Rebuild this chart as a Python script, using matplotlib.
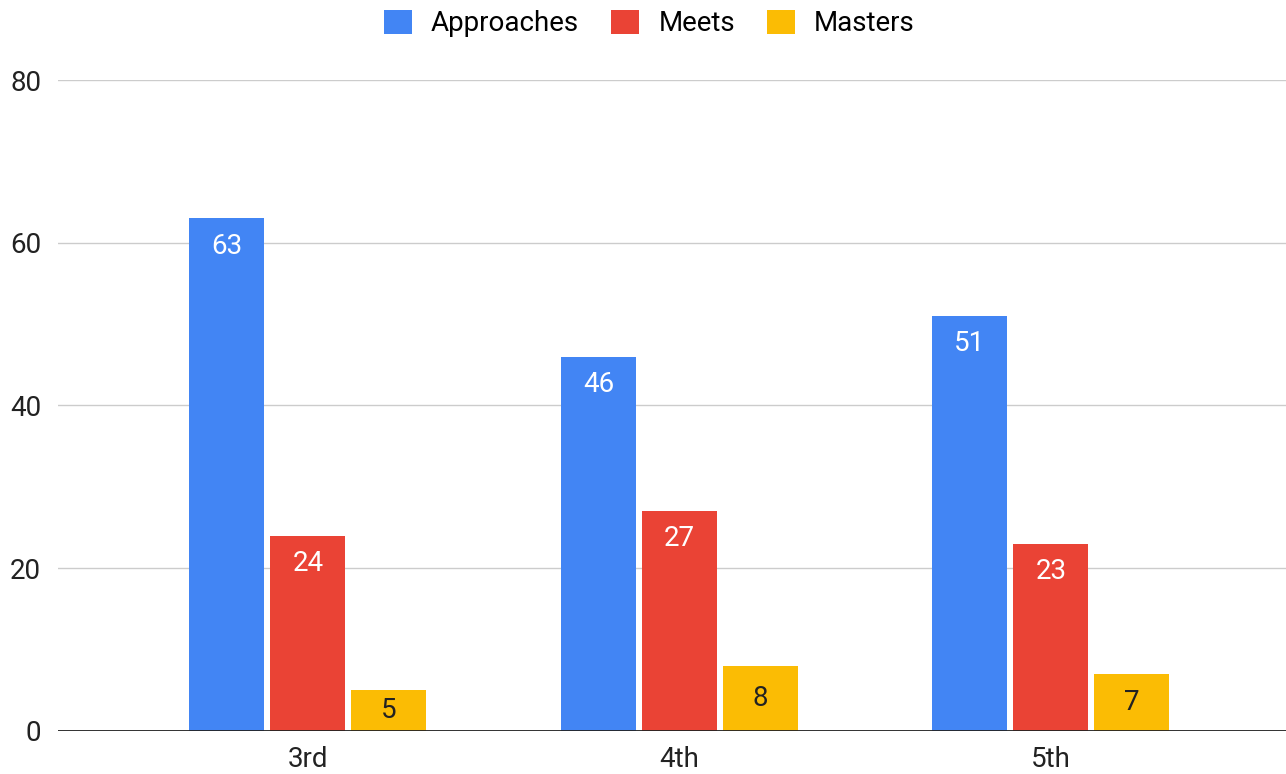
import matplotlib.pyplot as plt
import numpy as np

plt.rcParams['font.family'] = ['Roboto', 'DejaVu Sans']

grades = ["3rd", "4th", "5th"]
approaches = [63, 46, 51]
meets = [24, 27, 23]
masters = [5, 8, 7]

series = [
    ("Approaches", approaches, "#4285F4", "white"),
    ("Meets", meets, "#EA4335", "white"),
    ("Masters", masters, "#FBBC04", "#222222"),
]

fs = 20

fig = plt.figure(figsize=(12.86, 7.74), dpi=100)
ax = fig.add_axes([0.045, 0.0556, 0.955, 0.841])

x = np.arange(len(grades))
width = 0.202
step = 0.218

for i, (name, vals, color, tcolor) in enumerate(series):
    pos = x + (i - 1) * step
    bars = ax.bar(pos, vals, width, color=color, label=name, zorder=3)
    for b, v in zip(bars, vals):
        # labels sit near the top, short bars get them centered
        ty = v - 3.4 if v >= 10 else v / 2
        ax.text(b.get_x() + b.get_width() / 2, ty, str(v),
                ha="center", va="center", color=tcolor, fontsize=fs, zorder=4)

ax.set_xlim(-0.673, 2.633)
ax.set_ylim(0, 80)
ax.set_yticks([0, 20, 40, 60, 80])
ax.set_xticks(x)
ax.set_xticklabels(grades)
ax.grid(axis="y", color="#cccccc", linewidth=1, zorder=0)
ax.axhline(0, color="#222222", linewidth=1.3, zorder=5)
for s in ax.spines.values():
    s.set_visible(False)
ax.tick_params(axis="both", length=0, labelsize=fs, colors="#222222")
ax.tick_params(axis="x", pad=11)
ax.tick_params(axis="y", pad=12)

fig.legend(loc="upper center", bbox_to_anchor=(0.505, 1.02), ncol=3, frameon=False,
           fontsize=fs, handlelength=1.0, handleheight=1.0, columnspacing=1.15,
           handletextpad=0.7)

fig.savefig("out.png", dpi=100)
